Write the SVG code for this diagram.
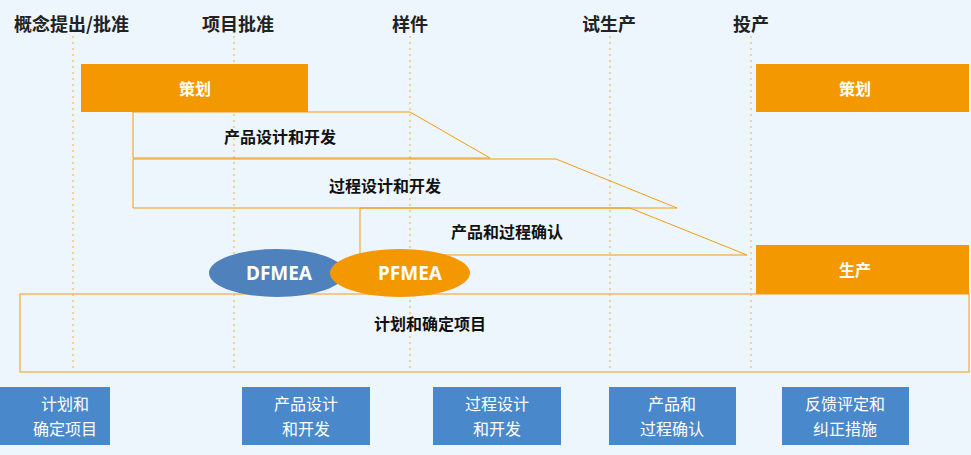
<svg xmlns="http://www.w3.org/2000/svg" width="971" height="455" viewBox="0 0 971 455">
<style>
.bg{fill:#eef6fd}
.vl{stroke:#f5c67a;stroke-width:1.5;stroke-dasharray:2 4}
.or{fill:#f39800}
.ph{fill:none;stroke:#f39c12;stroke-width:1}
.hd{font-family:"Noto Sans CJK SC","Liberation Sans",sans-serif;font-size:18px;font-weight:bold;fill:#222}
.t{font-family:"Noto Sans CJK SC","Liberation Sans",sans-serif;font-size:16px;font-weight:bold;fill:#111;text-anchor:middle}
.w{font-family:"Noto Sans CJK SC","Liberation Sans",sans-serif;font-size:16px;font-weight:bold;fill:#fff;text-anchor:middle}
.wf{font-family:"Noto Sans","Liberation Sans",sans-serif;font-size:19px;font-weight:bold;fill:#fff;text-anchor:middle}
.bb{fill:#4a88cc}
.bt{font-family:"Noto Sans CJK SC","Liberation Sans",sans-serif;font-size:16px;fill:#fff;text-anchor:middle}
</style>
<rect class="bg" width="971" height="455"/>
<g id="connectors">
<line class="vl" x1="73" y1="36" x2="73" y2="372"/>
<line class="vl" x1="234" y1="36" x2="234" y2="372"/>
<line class="vl" x1="410" y1="36" x2="410" y2="372"/>
<line class="vl" x1="610" y1="36" x2="610" y2="372"/>
<line class="vl" x1="751" y1="36" x2="751" y2="372"/>
</g>
<g id="headers">
<text class="hd" x="14" y="31">概念提出/批准</text>
<text class="hd" x="202" y="31">项目批准</text>
<text class="hd" x="392" y="31">样件</text>
<text class="hd" x="582" y="31">试生产</text>
<text class="hd" x="733" y="31">投产</text>
</g>
<g id="plan-all"><rect class="ph" x="20" y="294" width="949" height="78"/><text class="t" x="430" y="330">计划和确定项目</text></g>
<g id="pv"><polygon class="ph" points="360,208 630,208 747,255 360,255"/><text class="t" x="507" y="238">产品和过程确认</text></g>
<g id="pd2"><polygon class="ph" points="133,159 556,159 677,208 133,208"/><text class="t" x="385" y="192">过程设计和开发</text></g>
<g id="pd1"><polygon class="ph" points="133,112 410,112 490,158 133,158"/><text class="t" x="280" y="143">产品设计和开发</text></g>
<g id="plan1"><rect class="or" x="81" y="64" width="227" height="48"/><text class="w" x="195" y="95">策划</text></g>
<g id="plan2"><rect class="or" x="756" y="64" width="213" height="48"/><text class="w" x="855" y="95">策划</text></g>
<g id="prod"><rect class="or" x="756" y="245" width="213" height="49"/><text class="w" x="855" y="276">生产</text></g>
<g id="dfmea"><ellipse cx="277" cy="273" rx="68" ry="24" fill="#4f81bd"/><text class="wf" x="279" y="280">DFMEA</text></g>
<g id="pfmea"><ellipse cx="400" cy="273" rx="70" ry="24" fill="#f39800"/><text class="wf" x="410" y="280">PFMEA</text></g>
<g id="b1"><rect class="bb" x="0" y="387" width="110" height="58"/><text class="bt" x="65" y="410">计划和</text><text class="bt" x="65" y="435">确定项目</text></g>
<g id="b2"><rect class="bb" x="242" y="387" width="128" height="58"/><text class="bt" x="306" y="410">产品设计</text><text class="bt" x="306" y="435">和开发</text></g>
<g id="b3"><rect class="bb" x="433" y="387" width="128" height="58"/><text class="bt" x="497" y="410">过程设计</text><text class="bt" x="497" y="435">和开发</text></g>
<g id="b4"><rect class="bb" x="609" y="387" width="127" height="58"/><text class="bt" x="672" y="410">产品和</text><text class="bt" x="672" y="435">过程确认</text></g>
<g id="b5"><rect class="bb" x="782" y="387" width="127" height="58"/><text class="bt" x="845" y="410">反馈评定和</text><text class="bt" x="845" y="435">纠正措施</text></g>
</svg>
